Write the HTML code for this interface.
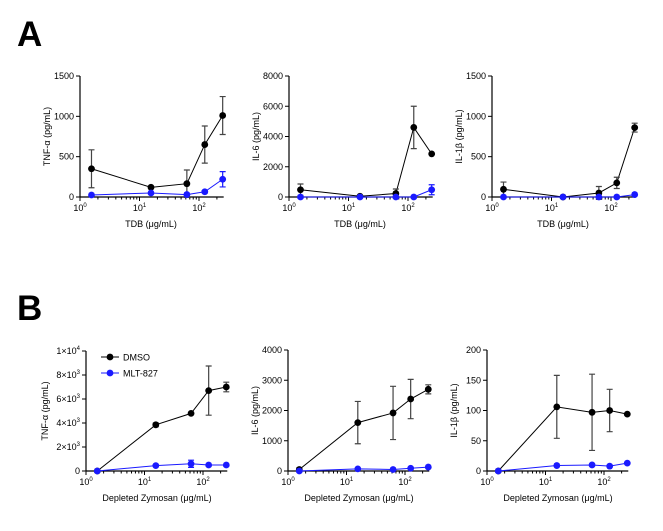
<!DOCTYPE html>
<html><head><meta charset="utf-8"><style>
html,body{margin:0;padding:0;background:#fff;width:663px;height:531px;overflow:hidden}
svg text{font-family:"Liberation Sans",sans-serif;fill:#000}
</style></head><body>
<svg id="s" width="663" height="531" xmlns="http://www.w3.org/2000/svg">
<text x="17" y="46" font-size="35" font-weight="bold">A</text>
<text x="17" y="320" font-size="35" font-weight="bold">B</text>
</svg>
<script>
const S=document.getElementById('s');let h='';
const X=[1.56,15.6,62.5,125,250];
function panel(o){
 const {ax,top,y0,dec,ymax,ticks,labels,ylab,xlab,blk,be,blu,bue}=o;
 const yoff=o.yoff||30;
 const xp=v=>ax+Math.log10(v)*dec, yp=v=>y0-(y0-top)*v/ymax;
 const xend=xp(260);
 h+=`<line x1="${ax}" y1="${top}" x2="${ax}" y2="${y0}" stroke="#000" stroke-width="1.2"/>`;
 h+=`<line x1="${ax}" y1="${y0}" x2="${xend}" y2="${y0}" stroke="#000" stroke-width="1.2"/>`;
 ticks.forEach((t,i)=>{const y=yp(t);h+=`<line x1="${ax-4}" y1="${y}" x2="${ax}" y2="${y}" stroke="#000"/>`;
  h+=`<text x="${ax-6}" y="${y+3}" font-size="9" text-anchor="end">${labels[i]}</text>`;});
 for(let d=0;d<3;d++)for(let m=1;m<10;m++){const v=m*Math.pow(10,d);if(v>260)break;const x=xp(v);
  h+=`<line x1="${x}" y1="${y0}" x2="${x}" y2="${y0+(m==1?4:2.5)}" stroke="#000"/>`;
  if(m==1)h+=`<text x="${x}" y="${y0+14}" font-size="9" text-anchor="middle">10<tspan font-size="6" dy="-4">${d}</tspan></text>`;}
 const my=(top+y0)/2;
 h+=`<text transform="translate(${ax-yoff},${my}) rotate(-90)" font-size="9" text-anchor="middle">${ylab}</text>`;
 h+=`<text x="${ax+71}" y="${y0+30}" font-size="9" text-anchor="middle">${xlab}</text>`;
 function ser(v,e,c,ec){
  h+=`<polyline fill="none" stroke="${c}" stroke-width="1" points="${v.map((y,i)=>xp(X[i])+','+yp(y)).join(' ')}"/>`;
  v.forEach((y,i)=>{if(e[i]>0){const x=xp(X[i]);h+=`<path d="M${x} ${yp(y-e[i])}V${yp(y+e[i])}M${x-3} ${yp(y-e[i])}h6M${x-3} ${yp(y+e[i])}h6" stroke="${ec}" stroke-width="1.2" fill="none"/>`;}
   h+=`<circle cx="${xp(X[i])}" cy="${yp(y)}" r="3.4" fill="${c}"/>`;});
 }
 ser(blk,be,'#000','#444');ser(blu,bue,'#1a1aff','#1a1aff');
}
const tA='TDB (μg/mL)',tB='Depleted Zymosan (μg/mL)';
panel({ax:80,top:76,y0:197,dec:59.5,ymax:1500,ticks:[0,500,1000,1500],labels:[0,500,1000,1500],ylab:'TNF-α (pg/mL)',xlab:tA,
 blk:[350,120,165,650,1010],be:[235,15,170,230,235],blu:[25,50,30,65,220],bue:[0,0,0,15,95]});
panel({ax:289,top:76,y0:197,dec:59.5,ymax:8000,ticks:[0,2000,4000,6000,8000],labels:[0,2000,4000,6000,8000],ylab:'IL-6 (pg/mL)',xlab:tA,
 blk:[480,50,230,4600,2850],be:[380,0,300,1400,0],blu:[0,0,0,0,480],bue:[0,0,0,0,330]});
panel({ax:492,top:76,y0:197,dec:59.5,ymax:1500,ticks:[0,500,1000,1500],labels:[0,500,1000,1500],ylab:'IL-1β (pg/mL)',xlab:tA,
 blk:[95,0,50,175,860],be:[90,0,80,70,55],blu:[0,0,0,0,30],bue:[0,0,0,0,0]});
const sup=n=>`${n}×10<tspan font-size="6" dy="-4">${n==1?4:3}</tspan>`;
panel({ax:86,top:351,y0:471,dec:58.5,ymax:10000,yoff:38,ticks:[0,2000,4000,6000,8000,10000],labels:['0',sup(2),sup(4),sup(6),sup(8),sup(1)],ylab:'TNF-α (pg/mL)',xlab:tB,
 blk:[0,3850,4800,6700,7000],be:[0,150,0,2050,400],blu:[0,450,600,500,500],bue:[0,0,300,0,0]});
panel({ax:288,top:350,y0:471,dec:58.5,ymax:4000,ticks:[0,1000,2000,3000,4000],labels:[0,1000,2000,3000,4000],ylab:'IL-6 (pg/mL)',xlab:tB,
 blk:[50,1600,1920,2380,2700],be:[50,700,880,650,150],blu:[0,70,50,90,130],bue:[0,0,0,0,0]});
panel({ax:487,top:350,y0:471,dec:58.5,ymax:200,ticks:[0,50,100,150,200],labels:[0,50,100,150,200],ylab:'IL-1β (pg/mL)',xlab:tB,
 blk:[0,106,97,100,94],be:[0,52,63,35,0],blu:[0,9,10,8,13],bue:[0,0,0,0,0]});
h+=`<line x1="101" y1="357" x2="119" y2="357" stroke="#000"/><circle cx="110" cy="357" r="3.4" fill="#000"/><text x="123" y="360.5" font-size="9">DMSO</text>`;
h+=`<line x1="101" y1="373" x2="119" y2="373" stroke="#1a1aff"/><circle cx="110" cy="373" r="3.4" fill="#1a1aff"/><text x="123" y="376.5" font-size="9">MLT-827</text>`;
S.insertAdjacentHTML('beforeend',h);
</script>
</body></html>
